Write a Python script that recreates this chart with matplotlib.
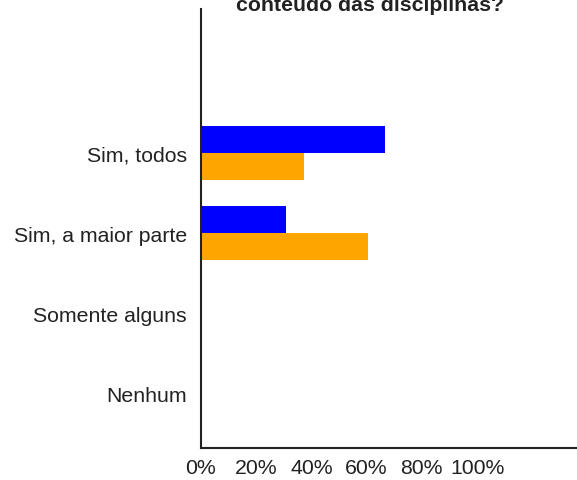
import matplotlib
matplotlib.use("Agg")
import matplotlib.pyplot as plt
import numpy as np

plt.rcParams['font.family'] = ['Liberation Sans', 'DejaVu Sans']

categorias = ['Sim, todos', 'Sim, a maior parte', 'Somente alguns', 'Nenhum']
serie_azul = [66.5, 30.8, 0, 0]
serie_laranja = [37.4, 60.6, 0, 0]
ticks_x = [0, 20, 40, 60, 80, 100]
rotulos_x = ['0%', '20%', '40%', '60%', '80%', '100%']
titulo = 'conteúdo das disciplinas?'

fig = plt.figure(figsize=(5.77, 4.81), dpi=100)
ax = fig.add_axes([201 / 577, 1 - 449 / 481, 376 / 577, 439 / 481])

y = np.arange(len(categorias))
h = 0.3375
ax.barh(y - h / 2, serie_azul, height=h, color='#0000ff')
ax.barh(y + h / 2, serie_laranja, height=h, color='#ffa500')

ax.set_xlim(0, 136.2)
ax.set_ylim(3.6875, -1.8)
ax.set_yticks(y)
ax.set_yticklabels(categorias, fontsize=15.3, color='#222222')
ax.set_xticks(ticks_x)
ax.set_xticklabels(rotulos_x, fontsize=15.3, color='#222222')
ax.tick_params(length=0)
ax.tick_params(axis='y', pad=10)
ax.tick_params(axis='x', pad=7)

for s in ['top', 'right']:
    ax.spines[s].set_visible(False)
for s in ['left', 'bottom']:
    ax.spines[s].set_linewidth(1.5)
    ax.spines[s].set_color('#222222')

# titulo cortado no topo, como na imagem original
fig.text(370 / 577, 1 - 11 / 481, titulo, ha='center', va='baseline',
         fontsize=15.3, fontweight='bold', color='#222222')

fig.savefig('out.png', dpi=100)
